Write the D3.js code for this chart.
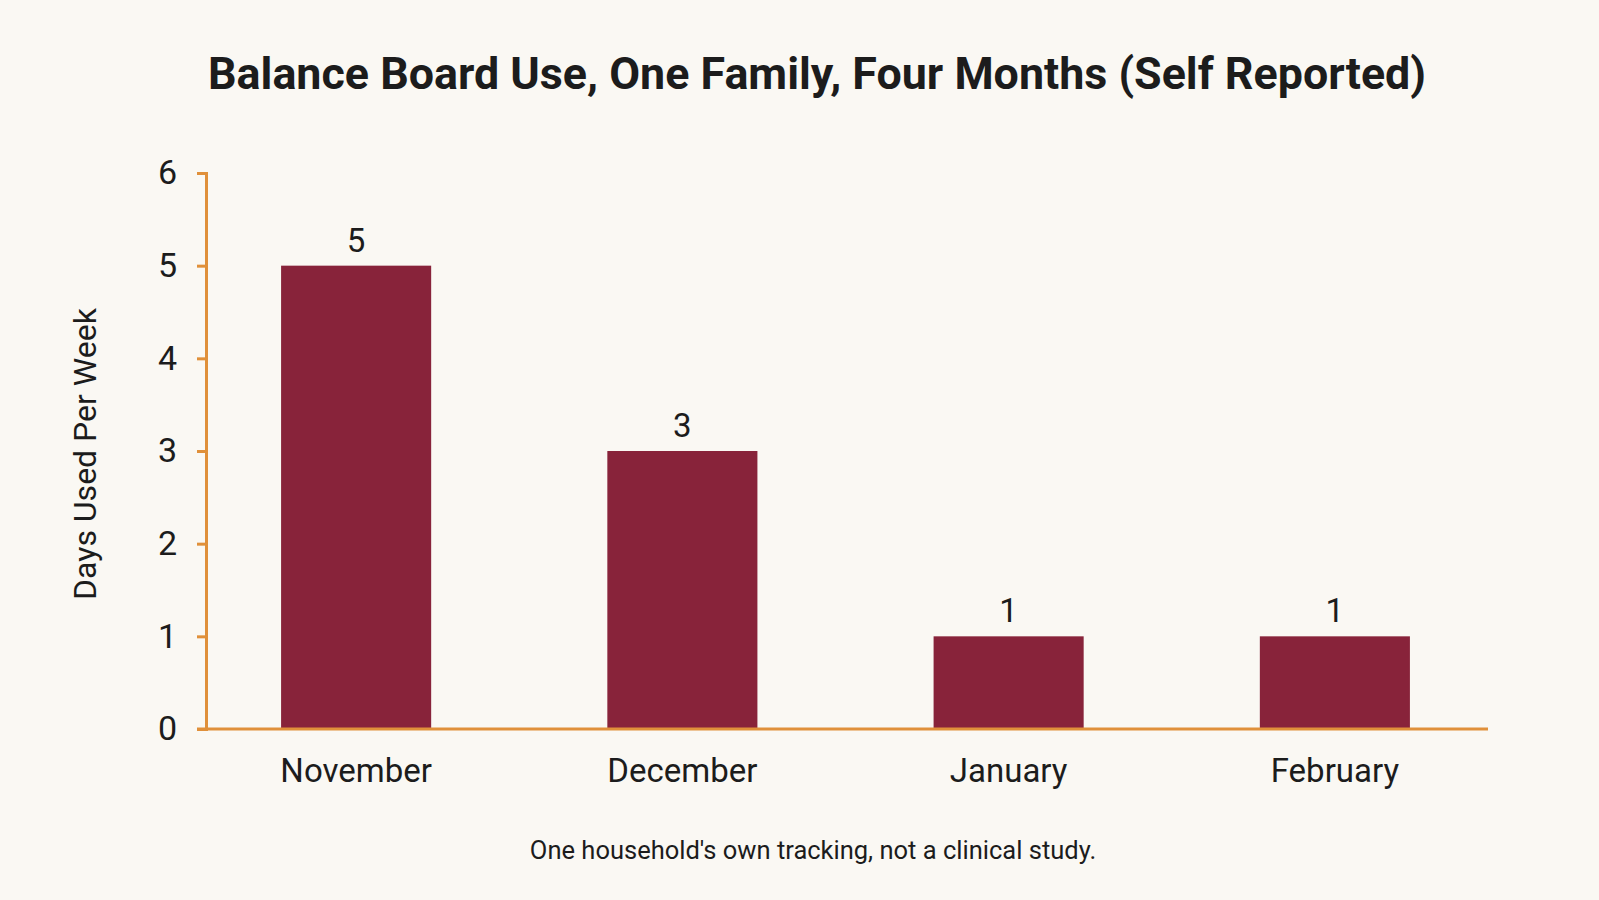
<!DOCTYPE html>
<html>
<head>
<meta charset="utf-8">
<script src="https://cdn.jsdelivr.net/npm/d3@7"></script>
<style>
  html, body { margin: 0; padding: 0; background: #faf8f3; }
  svg { display: block; font-family: Roboto, "Noto Sans", sans-serif; }
</style>
</head>
<body>
<svg id="chart" width="1599" height="900"></svg>
<script>
// data
var months = ["November", "December", "January", "February"];
var daysPerWeek = [5, 3, 1, 1];
var yTicks = [0, 1, 2, 3, 4, 5, 6];

var title = "Balance Board Use, One Family, Four Months (Self Reported)";
var yLabel = "Days Used Per Week";
var note = "One household's own tracking, not a clinical study.";

var axisColor = "#e0903a",
    barColor = "#88233a",
    ink = "#1c1c1c";

var svg = d3.select("#chart");

var x = d3.scaleBand()
  .domain(months)
  .range([193, 1498])
  .paddingInner(0.54)
  .paddingOuter(0.27);

var y = d3.scaleLinear()
  .domain([0, 6])
  .range([729, 173]);

// title
svg.append("text")
  .attr("x", 817).attr("y", 89)
  .attr("text-anchor", "middle")
  .attr("font-size", 44.8)
  .attr("font-weight", 700)
  .attr("fill", ink)
  .text(title);

// bars
svg.append("g").selectAll("rect")
  .data(months)
  .join("rect")
  .attr("x", function(d) { return x(d); })
  .attr("width", x.bandwidth())
  .attr("y", function(d, i) { return y(daysPerWeek[i]); })
  .attr("height", function(d, i) { return y(0) - y(daysPerWeek[i]); })
  .attr("fill", barColor);

// value labels
svg.append("g").selectAll("text")
  .data(months)
  .join("text")
  .attr("x", function(d) { return x(d) + x.bandwidth() / 2; })
  .attr("y", function(d, i) { return y(daysPerWeek[i]) - 14; })
  .attr("text-anchor", "middle")
  .attr("font-size", 33)
  .attr("fill", ink)
  .text(function(d, i) { return daysPerWeek[i]; });

// y axis
var yAxis = svg.append("g")
  .attr("transform", "translate(206,0)")
  .call(d3.axisLeft(y).tickValues(yTicks).tickFormat(d3.format("d"))
    .tickSize(9).tickSizeOuter(9).tickPadding(20));
yAxis.select(".domain").attr("stroke", axisColor).attr("stroke-width", 3);
yAxis.selectAll(".tick line").attr("stroke", axisColor).attr("stroke-width", 3);
yAxis.selectAll(".tick text")
  .attr("font-size", 34)
  .attr("font-family", "Roboto, 'Noto Sans', sans-serif")
  .attr("fill", ink);

// x axis (baseline line + month labels)
var xAxis = svg.append("g")
  .attr("transform", "translate(0," + y(0) + ")")
  .call(d3.axisBottom(x).tickSize(0).tickPadding(30));
xAxis.select(".domain").remove();
xAxis.selectAll(".tick text")
  .attr("font-size", 33)
  .attr("font-family", "Roboto, 'Noto Sans', sans-serif")
  .attr("fill", ink);
svg.append("line")
  .attr("x1", 197).attr("x2", 1488)
  .attr("y1", y(0)).attr("y2", y(0))
  .attr("stroke", axisColor)
  .attr("stroke-width", 3);

// y axis label
svg.append("text")
  .attr("transform", "translate(96,454) rotate(-90)")
  .attr("text-anchor", "middle")
  .attr("font-size", 32)
  .attr("fill", ink)
  .text(yLabel);

// footnote
svg.append("text")
  .attr("x", 813).attr("y", 859)
  .attr("text-anchor", "middle")
  .attr("font-size", 25.5)
  .attr("fill", ink)
  .text(note);
</script>
</body>
</html>
